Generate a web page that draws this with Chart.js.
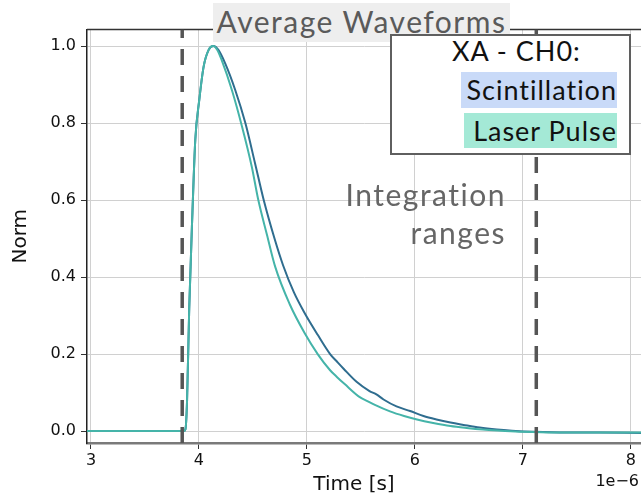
<!DOCTYPE html>
<html>
<head>
<meta charset="utf-8">
<script src="https://cdn.jsdelivr.net/npm/chart.js@4/dist/chart.umd.min.js"></script>
<style>
  html, body { margin: 0; padding: 0; background: #ffffff; }
  #wrap { position: relative; width: 641px; height: 496px; overflow: hidden; }
  #c { position: absolute; left: 0; top: 0; }
  .ov { position: absolute; white-space: nowrap; }
  #title { left: 213px; top: 3px; width: 297px; height: 39px; line-height: 39px; background: #eeeeee;
           color: #5a5a5a; font: 30px "Lato", sans-serif; letter-spacing: 1.5px; text-align: center; }
  #legend { left: 390px; top: 34px; width: 241px; height: 121px; box-sizing: border-box;
            border: 2px solid #5f5f5f; background: #ffffff; }
  .lg { font: 27px "Lato", sans-serif; color: #111; text-align: right; letter-spacing: 1px; }
  #lgTitle { left: 452px; top: 35px; height: 32px; line-height: 32px; }
  #lgS { left: 461px; top: 72px; width: 156px; height: 36px; line-height: 36px; background: #c9daf8; }
  #lgL { left: 464px; top: 113px; width: 153px; height: 35px; line-height: 35px; background: #a4e9d6; }
  #integ { left: 296px; top: 175px; width: 210px; text-align: right; color: #666666;
           font: 30px "Lato", sans-serif; letter-spacing: 1.5px; line-height: 38px; }
  #xlab { left: 254px; top: 470px; width: 200px; text-align: center; font: 20px "DejaVu Sans", sans-serif; color: #111; line-height: 26px; }
  #offs { left: 560px; top: 471px; width: 79px; text-align: right; font: 16px "DejaVu Sans", sans-serif; color: #111; line-height: 20px; }
</style>
</head>
<body>
<div id="wrap">
  <canvas id="c" width="641" height="496"></canvas>
  <div class="ov" id="title">Average Waveforms</div>
  <div class="ov" id="legend"></div>
  <div class="ov lg" id="lgTitle">XA - CH0:</div>
  <div class="ov lg" id="lgS">Scintillation</div>
  <div class="ov lg" id="lgL">Laser Pulse</div>
  <div class="ov" id="integ">Integration<br>ranges</div>
  <div class="ov" id="xlab">Time [s]</div>
  <div class="ov" id="offs">1e−6</div>
</div>
<script>
// ---- data (time in units of 1e-6 s) ----
const scintTime = [2.96, 3.5, 3.86, 3.875, 3.89, 3.91, 3.94, 3.966, 4.003, 4.043, 4.09, 4.135, 4.18, 4.243, 4.336, 4.43, 4.52, 4.6, 4.7, 4.78, 4.88, 4.98, 5.1, 5.215, 5.28, 5.34, 5.46, 5.58, 5.64, 5.71, 5.83, 5.956, 6.08, 6.2, 6.33, 6.45, 6.6, 6.76, 6.9, 7.1, 7.4, 7.7, 8.1];
const scintNorm = [0, 0, 0, 0.005, 0.08, 0.32, 0.57, 0.756, 0.86, 0.946, 0.99, 1.0, 0.99, 0.955, 0.886, 0.80, 0.695, 0.60, 0.50, 0.43, 0.36, 0.306, 0.25, 0.20, 0.18, 0.162, 0.128, 0.104, 0.096, 0.082, 0.064, 0.052, 0.039, 0.030, 0.022, 0.016, 0.009, 0.004, 0.001, -0.002, -0.004, -0.004, -0.005];
const laserTime = [2.96, 3.5, 3.86, 3.875, 3.89, 3.91, 3.94, 3.966, 4.003, 4.043, 4.09, 4.13, 4.17, 4.21, 4.305, 4.40, 4.49, 4.55, 4.63, 4.706, 4.84, 4.98, 5.1, 5.215, 5.28, 5.35, 5.49, 5.56, 5.63, 5.77, 5.9, 6.02, 6.17, 6.33, 6.48, 6.63, 6.8, 7.0, 7.3, 7.7, 8.1];
const laserNorm = [0, 0, 0, 0.005, 0.08, 0.32, 0.57, 0.756, 0.86, 0.946, 0.99, 1.0, 0.99, 0.964, 0.886, 0.79, 0.686, 0.60, 0.51, 0.427, 0.33, 0.254, 0.20, 0.158, 0.140, 0.122, 0.088, 0.078, 0.068, 0.051, 0.039, 0.030, 0.021, 0.013, 0.008, 0.004, 0.001, -0.002, -0.004, -0.004, -0.004];
const integrationBounds = [3.845, 7.125];
const xTicks = [3, 4, 5, 6, 7, 8];
const yTicks = [0.0, 0.2, 0.4, 0.6, 0.8, 1.0];
const xRange = [2.963, 8.095];
const yRange = [-0.031, 1.043];

const toXY = (xs, ys) => xs.map((x, i) => ({ x: x, y: ys[i] }));
const vline = (x) => [{ x: x, y: yRange[0] }, { x: x, y: yRange[1] }];

const topSpine = {
  id: 'topSpine',
  beforeDatasetsDraw(chart) {
    const { ctx, chartArea } = chart;
    ctx.save();
    ctx.strokeStyle = '#333333';
    ctx.lineWidth = 1.5;
    ctx.beginPath();
    ctx.moveTo(chartArea.left, chartArea.top);
    ctx.lineTo(chartArea.right, chartArea.top);
    ctx.stroke();
    ctx.restore();
  }
};

const dashStyle = { borderColor: '#555555', borderWidth: 3.5, borderDash: [16, 11], pointRadius: 0, fill: false, borderCapStyle: 'butt' };

new Chart(document.getElementById('c'), {
  type: 'line',
  data: {
    datasets: [
      Object.assign({ label: 'start', data: vline(integrationBounds[0]) }, dashStyle),
      Object.assign({ label: 'end', data: vline(integrationBounds[1]) }, dashStyle),
      { label: 'Laser Pulse', data: toXY(laserTime, laserNorm), borderColor: '#45b4a9', borderWidth: 2, pointRadius: 0, cubicInterpolationMode: 'monotone' },
      { label: 'Scintillation', data: toXY(scintTime, scintNorm), borderColor: '#2f6d8f', borderWidth: 2, pointRadius: 0, cubicInterpolationMode: 'monotone' }
    ]
  },
  options: {
    responsive: false,
    animation: false,
    devicePixelRatio: 1,
    layout: { padding: { top: 29.5, right: 0, left: 0, bottom: 0 } },
    plugins: { legend: { display: false }, tooltip: { enabled: false }, title: { display: false } },
    scales: {
      x: {
        type: 'linear', min: xRange[0], max: xRange[1],
        afterFit(s) { s.height = 53; },
        afterBuildTicks(s) { s.ticks = xTicks.map(v => ({ value: v })); },
        grid: { color: '#d0d0d0', lineWidth: 1, tickColor: '#333333', tickLength: 6, tickWidth: 1 },
        border: { display: true, color: '#7a7a7a', width: 2.5 },
        ticks: { color: '#111', font: { family: 'DejaVu Sans', size: 16 }, padding: 2, maxRotation: 0, callback: v => String(v) }
      },
      y: {
        type: 'linear', min: yRange[0], max: yRange[1],
        afterFit(s) { s.width = 87; },
        afterBuildTicks(s) { s.ticks = yTicks.map(v => ({ value: v })); },
        grid: { color: '#d0d0d0', lineWidth: 1, tickColor: '#333333', tickLength: 6, tickWidth: 1 },
        border: { display: true, color: '#222222', width: 1.5 },
        ticks: { color: '#111', font: { family: 'DejaVu Sans', size: 16 }, padding: 5, callback: v => v.toFixed(1) },
        title: { display: true, text: 'Norm', color: '#111', font: { family: 'DejaVu Sans', size: 20 }, padding: { top: 9, bottom: 0 } }
      }
    }
  },
  plugins: [topSpine]
});
</script>
</body>
</html>
